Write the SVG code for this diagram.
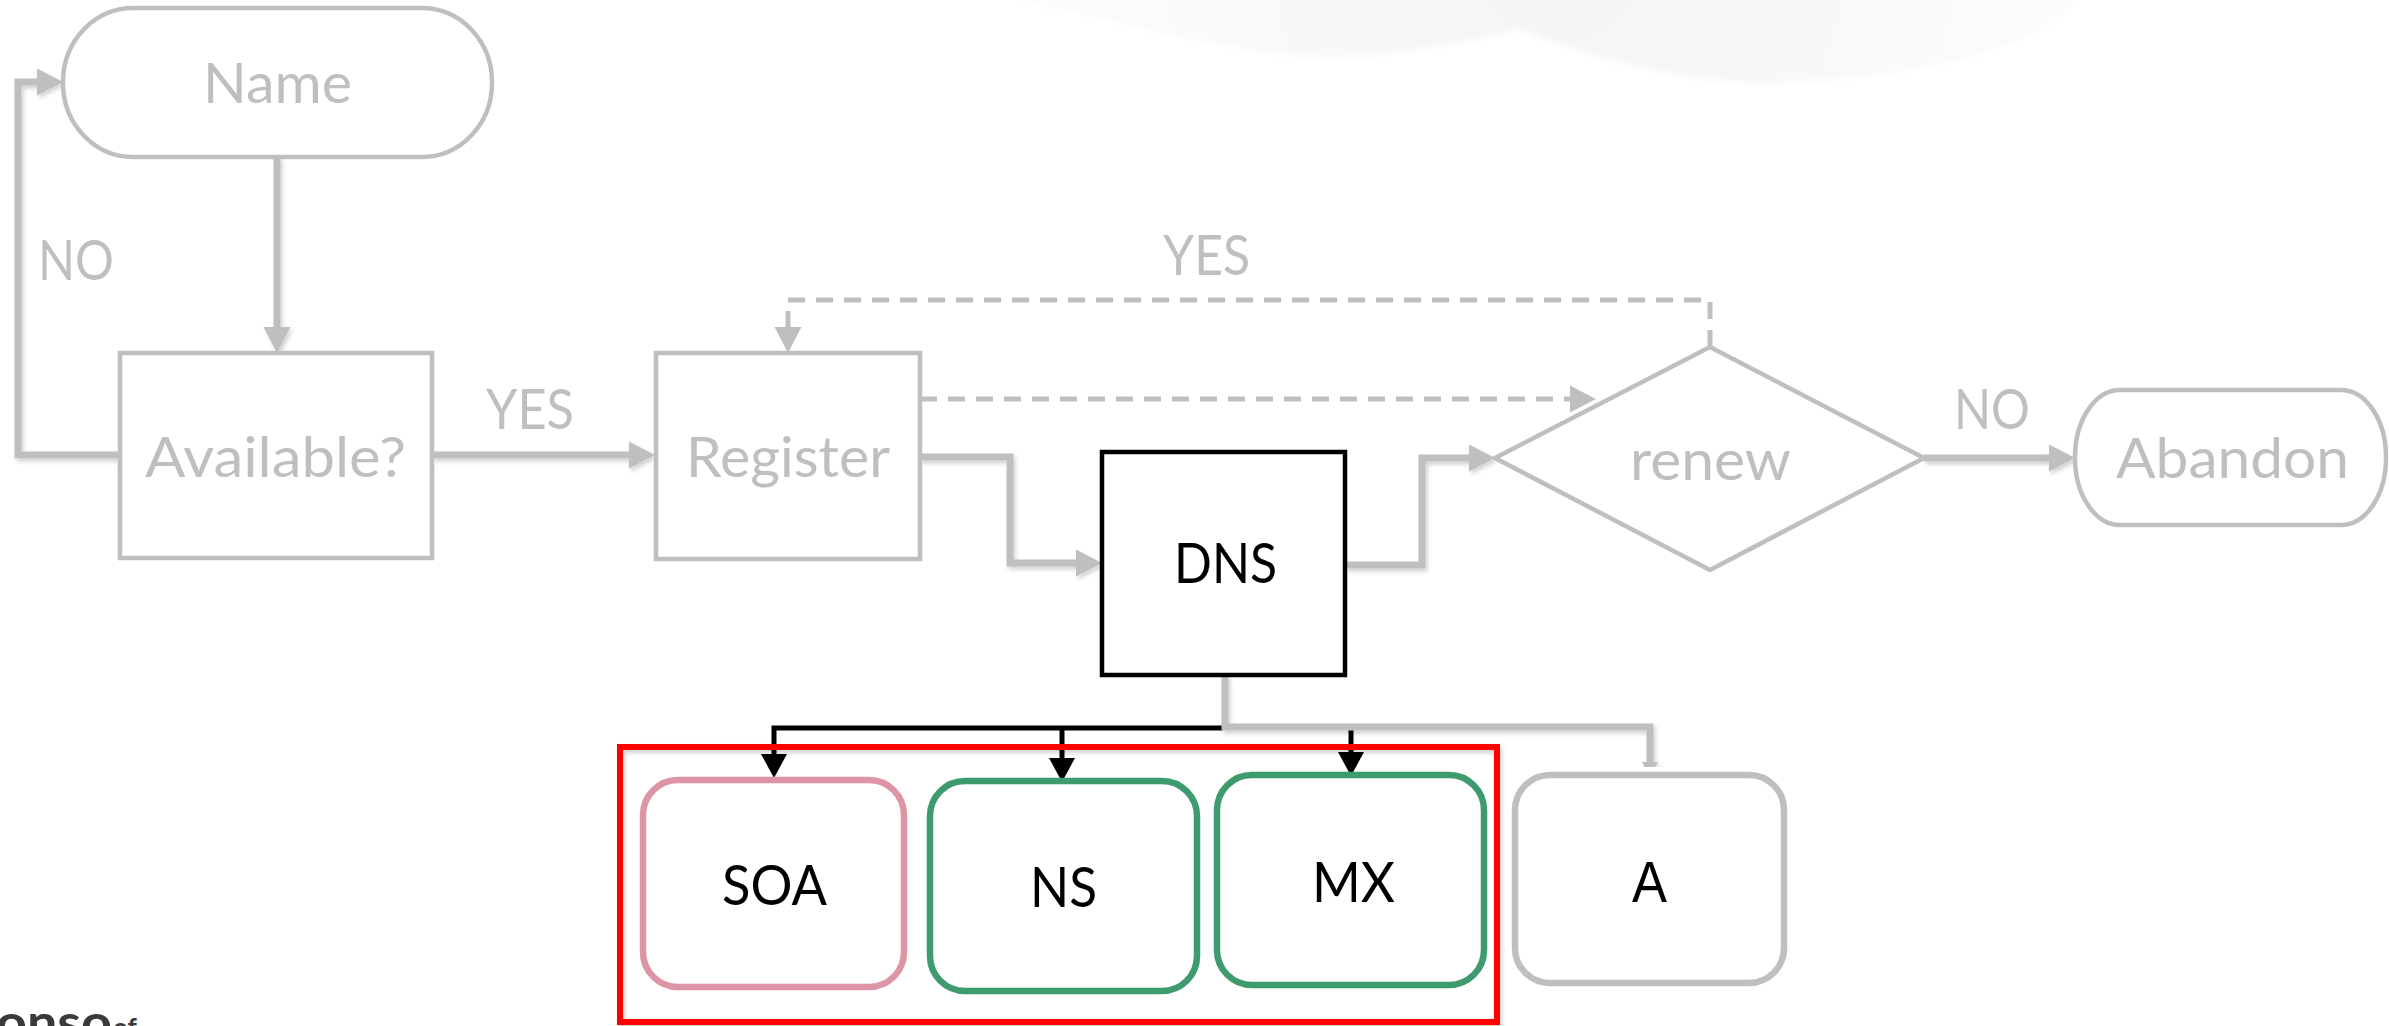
<svg xmlns="http://www.w3.org/2000/svg" width="2389" height="1026" viewBox="0 0 2389 1026">
  <style>
    .lbl { font-family: Lato, "Open Sans", "Liberation Sans", sans-serif; font-size: 56px; }
    .muted { fill: #bfbfbf; }
    .dark { fill: #000000; }
    .gnode { fill: #ffffff; stroke: #bfbfbf; stroke-width: 4.5; }
    .conn { fill: none; stroke: #bfbfbf; stroke-width: 7; stroke-linejoin: miter; }
    .dash { fill: none; stroke: #bfbfbf; stroke-width: 5; stroke-dasharray: 17 11; }
    .blk { fill: none; stroke: #000000; stroke-width: 5; }
    .rec { fill: #ffffff; stroke-width: 6.5; }
  </style>
  <defs>
    <radialGradient id="haze" cx="1560" cy="-40" r="560" gradientUnits="userSpaceOnUse">
      <stop offset="0" stop-color="#f4f4f4"/>
      <stop offset="1" stop-color="#fdfdfd"/>
    </radialGradient>
    <filter id="hazeBlur" x="-5%" y="-20%" width="110%" height="140%">
      <feGaussianBlur stdDeviation="3"/>
    </filter>
    <filter id="soft" x="-5%" y="-5%" width="110%" height="110%">
      <feDropShadow dx="2" dy="3" stdDeviation="2" flood-color="#000" flood-opacity="0.18"/>
    </filter>
    <marker id="arrG" markerUnits="userSpaceOnUse" markerWidth="26" markerHeight="27" refX="0" refY="13.5" orient="auto" overflow="visible">
      <path d="M0,0 L26,13.5 L0,27 Z" fill="#bfbfbf"/>
    </marker>
    <marker id="arrGs" markerUnits="userSpaceOnUse" markerWidth="15" markerHeight="16" refX="0" refY="8" orient="auto" overflow="visible">
      <path d="M0,0 L15,8 L0,16 Z" fill="#bfbfbf"/>
    </marker>
    <marker id="arrK" markerUnits="userSpaceOnUse" markerWidth="24" markerHeight="26" refX="0" refY="13" orient="auto" overflow="visible">
      <path d="M0,0 L24,13 L0,26 Z" fill="#000000"/>
    </marker>
  </defs>

  <rect width="2389" height="1026" fill="#ffffff"/>
  <!-- faint backdrop swoosh along the top edge -->
  <path d="M1015,-10 L1015,0 C1130,25 1240,55 1332,58 C1400,55 1470,42 1520,29 C1600,62 1690,82 1765,83 C1900,80 2030,55 2078,0 L2078,-10 Z" fill="url(#haze)" filter="url(#hazeBlur)"/>

  <!-- connectors -->
  <g id="connectors">
    <g filter="url(#soft)">
      <path class="conn" d="M120,455 H18 V82 H37" marker-end="url(#arrG)"/>
      <path class="conn" d="M277,157 V327" marker-end="url(#arrG)"/>
      <path class="conn" d="M432,455 H629" marker-end="url(#arrG)"/>
      <path class="conn" d="M920,457 H1010 V563 H1076" marker-end="url(#arrG)"/>
      <path class="conn" d="M1345,565 H1422 V458 H1469" marker-end="url(#arrG)"/>
      <path class="conn" d="M1924,458 H2049" marker-end="url(#arrG)"/>
    </g>
    <path class="dash" d="M1710,347 V300 H788 V327" marker-end="url(#arrG)"/>
    <path class="dash" d="M920,399 H1570" marker-end="url(#arrG)"/>
    <path class="blk" d="M1223,728 H774 V754" marker-end="url(#arrK)"/>
    <path class="blk" d="M1062,728 V758" marker-end="url(#arrK)"/>
    <path class="blk" d="M1351,727 V752" marker-end="url(#arrK)"/>
    <path class="conn" stroke-width="6" d="M1225,675 V727 H1650 V762" marker-end="url(#arrGs)" filter="url(#soft)"/>
  </g>

  <!-- edge labels -->
  <g id="edge-labels">
    <text class="lbl muted" x="38" y="280" textLength="76" lengthAdjust="spacingAndGlyphs">NO</text>
    <text class="lbl muted" x="486" y="429" textLength="88" lengthAdjust="spacingAndGlyphs">YES</text>
    <text class="lbl muted" x="1163" y="275" textLength="87" lengthAdjust="spacingAndGlyphs">YES</text>
    <text class="lbl muted" x="1954" y="429" textLength="76" lengthAdjust="spacingAndGlyphs">NO</text>
  </g>

  <g id="node-name">
    <rect class="gnode" x="63" y="8" width="429" height="149" rx="70" ry="74"/>
    <text class="lbl muted" x="203" y="103" textLength="149" lengthAdjust="spacingAndGlyphs">Name</text>
  </g>
  <g id="node-available">
    <rect class="gnode" x="120" y="353" width="312" height="205"/>
    <text class="lbl muted" x="145" y="477" textLength="261" lengthAdjust="spacingAndGlyphs">Available?</text>
  </g>
  <g id="node-register">
    <rect class="gnode" x="656" y="353" width="264" height="206"/>
    <text class="lbl muted" x="686" y="477" textLength="204" lengthAdjust="spacingAndGlyphs">Register</text>
  </g>
  <g id="node-dns">
    <rect x="1102" y="452" width="243" height="223" fill="#ffffff" stroke="#000000" stroke-width="4.5"/>
    <text class="lbl dark" x="1174" y="583" font-size="52" textLength="103" lengthAdjust="spacingAndGlyphs">DNS</text>
  </g>
  <g id="node-renew">
    <polygon class="gnode" points="1495,458 1710,347 1924,458 1710,570"/>
    <text class="lbl muted" x="1630" y="480" textLength="161" lengthAdjust="spacingAndGlyphs">renew</text>
  </g>
  <g id="node-abandon">
    <rect class="gnode" x="2075" y="390" width="311" height="135" rx="45" ry="67"/>
    <text class="lbl muted" x="2116" y="478" textLength="233" lengthAdjust="spacingAndGlyphs">Abandon</text>
  </g>

  <!-- highlighted group of record types -->
  <g id="group-highlight">
    <rect x="620" y="747" width="877" height="275" fill="none" stroke="#ff0000" stroke-width="6" filter="url(#soft)"/>
  </g>
  <g id="node-soa">
    <rect class="rec" x="643" y="780" width="261" height="207" rx="35" stroke="#dd94a5"/>
    <text class="lbl dark" x="722" y="905" textLength="105" lengthAdjust="spacingAndGlyphs">SOA</text>
  </g>
  <g id="node-ns">
    <rect class="rec" x="930" y="781" width="267" height="210" rx="35" stroke="#3e9b6e"/>
    <text class="lbl dark" x="1030" y="907" textLength="67" lengthAdjust="spacingAndGlyphs">NS</text>
  </g>
  <g id="node-mx">
    <rect class="rec" x="1217" y="775" width="267" height="210" rx="35" stroke="#3e9b6e"/>
    <text class="lbl dark" x="1312" y="902" textLength="83" lengthAdjust="spacingAndGlyphs">MX</text>
  </g>
  <g id="node-a">
    <rect class="rec" x="1515" y="775" width="269" height="208" rx="35" stroke="#bfbfbf"/>
    <text class="dark" x="1632" y="902" font-family="Liberation Sans, Arial, sans-serif" font-size="57" textLength="35" lengthAdjust="spacingAndGlyphs">A</text>
  </g>

  <!-- wordmark clipped by the bottom edge -->
  <g id="wordmark" fill="#3a3a3a" font-family="Lato, 'Open Sans', sans-serif" font-weight="bold">
    <text x="-4" y="1040" font-size="50" textLength="116" lengthAdjust="spacingAndGlyphs">onso</text>
    <text x="113" y="1037" font-size="26">of</text>
  </g>
</svg>
